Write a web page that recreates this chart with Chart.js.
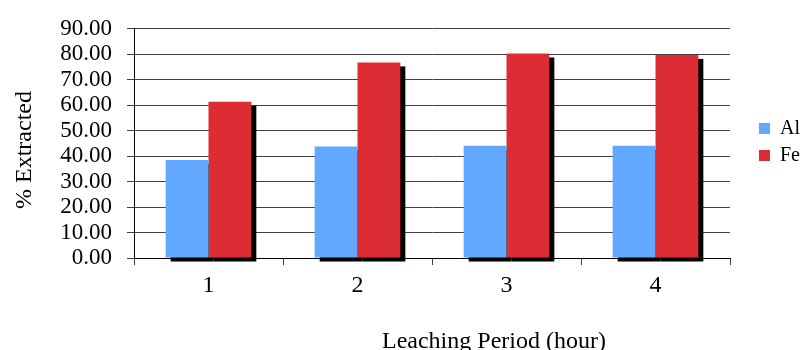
<!DOCTYPE html>
<html>
<head>
<meta charset="utf-8">
<title>Leaching Period vs % Extracted</title>
<script src="https://cdn.jsdelivr.net/npm/chart.js@4.4.1/dist/chart.umd.min.js"></script>
<style>
  html, body { margin: 0; padding: 0; background: #ffffff; }
  canvas { display: block; }
</style>
</head>
<body>
<canvas id="chart" width="801" height="350"></canvas>
<script>
// Leaching period (hours) on the category axis
const periods = ['1', '2', '3', '4'];
// Percentage of each metal extracted
const aluminium = [38.5, 43.8, 44.1, 44.1];
const iron = [61.4, 76.8, 80.3, 79.7];
const seriesNames = ['Al', 'Fe'];
// Value axis
const yMin = 0;
const yMax = 90;
const yStep = 10;
const xTitle = 'Leaching Period (hour)';
const yTitle = '% Extracted';

const serif = "'Liberation Serif', 'Times New Roman', serif";
Chart.defaults.font.family = serif;
Chart.defaults.color = '#000000';

// Solid drop shadow behind every bar, painted before any bar so that
// bars always sit on top of the shadows
const barShadow = {
  id: 'barShadow',
  beforeDatasetsDraw(chart) {
    const ctx = chart.ctx;
    const dx = 5, dy = 4;
    ctx.save();
    ctx.fillStyle = '#000000';
    chart.data.datasets.forEach((ds, i) => {
      const meta = chart.getDatasetMeta(i);
      if (meta.hidden) return;
      meta.data.forEach((bar) => {
        const p = bar.getProps(['x', 'y', 'base', 'width'], true);
        const left = p.x - p.width / 2;
        const top = Math.min(p.y, p.base);
        const h = Math.abs(p.base - p.y);
        ctx.fillRect(left + dx, top + dy, p.width, h);
      });
    });
    ctx.restore();
  }
};

// Move the legend a little away from the plot and up to mid-plot height
const legendShift = {
  id: 'legendShift',
  afterLayout(chart) {
    const lg = chart.legend;
    if (!lg) return;
    const dx = 22, dy = -45;
    lg.left += dx;
    lg.right += dx;
    lg.top += dy;
    lg.bottom += dy;
  }
};

// Axis captions
const axisCaptions = {
  id: 'axisCaptions',
  afterDraw(chart) {
    const ctx = chart.ctx;
    ctx.save();
    ctx.fillStyle = '#000000';
    ctx.font = '24px ' + serif;
    ctx.textAlign = 'left';
    ctx.textBaseline = 'alphabetic';
    ctx.fillText(xTitle, 382, 348);
    ctx.translate(25, 150);
    ctx.rotate(-Math.PI / 2);
    ctx.textAlign = 'center';
    ctx.textBaseline = 'middle';
    ctx.fillText(yTitle, 0, 0);
    ctx.restore();
  }
};

new Chart(document.getElementById('chart'), {
  type: 'bar',
  data: {
    labels: periods,
    datasets: [
      {
        label: seriesNames[0],
        data: aluminium,
        backgroundColor: '#62A8FE',
        borderWidth: 0,
        categoryPercentage: 0.575,
        barPercentage: 1.0
      },
      {
        label: seriesNames[1],
        data: iron,
        backgroundColor: '#DC2C34',
        borderWidth: 0,
        categoryPercentage: 0.575,
        barPercentage: 1.0
      }
    ]
  },
  options: {
    responsive: false,
    devicePixelRatio: 1,
    animation: false,
    layout: { padding: { top: 24, right: 13, bottom: 0, left: 0 } },
    plugins: {
      tooltip: { enabled: false },
      title: { display: false },
      legend: {
        position: 'right',
        align: 'center',
        labels: {
          boxWidth: 11,
          boxHeight: 11,
          padding: 7,
          color: '#000000',
          font: { family: serif, size: 20 }
        }
      }
    },
    scales: {
      x: {
        offset: true,
        grid: {
          offset: true,
          drawOnChartArea: false,
          drawTicks: true,
          tickLength: 7,
          color: '#404040',
          lineWidth: 1
        },
        border: { display: true, color: '#000000', width: 1 },
        ticks: {
          color: '#000000',
          padding: 6,
          font: { family: serif, size: 24 }
        },
        afterFit(scale) { scale.height = 92; }
      },
      y: {
        min: yMin,
        max: yMax,
        grid: {
          drawOnChartArea: true,
          drawTicks: true,
          tickLength: 7,
          color: '#404040',
          lineWidth: 1
        },
        border: { display: true, color: '#000000', width: 1 },
        ticks: {
          stepSize: yStep,
          autoSkip: false,
          color: '#000000',
          padding: 15,
          font: { family: serif, size: 23 },
          callback: (v) => Number(v).toFixed(2)
        },
        afterFit(scale) { scale.width = 134; }
      }
    }
  },
  plugins: [barShadow, legendShift, axisCaptions]
});
</script>
</body>
</html>
